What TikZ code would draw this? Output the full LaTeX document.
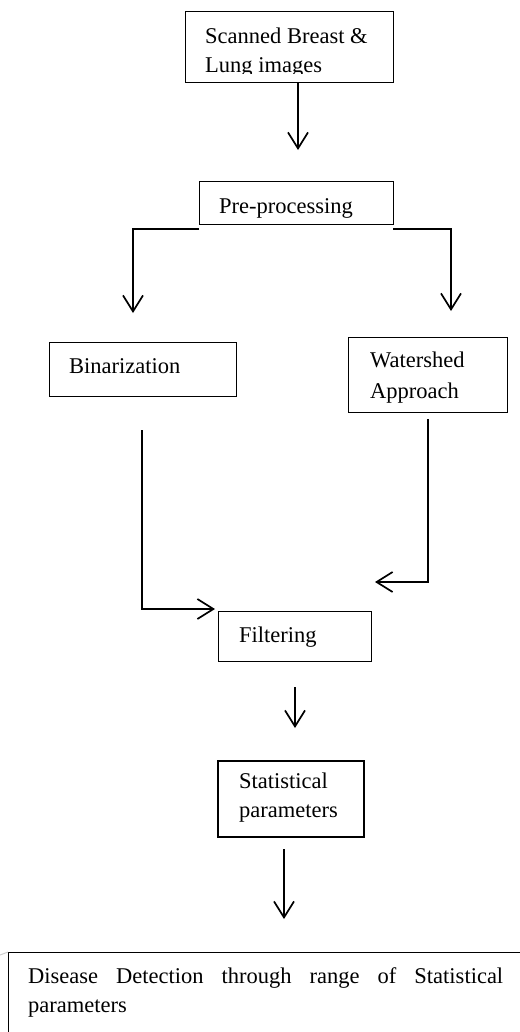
\documentclass[tikz,border=0pt]{standalone}
\usepackage{fontspec}
\setmainfont{Liberation Serif}
\usetikzlibrary{arrows.meta}
\begin{document}
\begin{tikzpicture}[x=1bp,y=-1bp,
  box/.style={draw, line width=1bp, inner sep=0pt, anchor=north west},
  txt/.style={anchor=base west, inner sep=0pt, font=\fontsize{22.5bp}{30bp}\selectfont},
  conn/.style={line width=1.7bp, -{Straight Barb[length=16bp,width=20bp,line width=1.7bp]}}]
\useasboundingbox (0,0) rectangle (520,1032);
\clip (0,0) rectangle (520,1032);
% boxes
\node[box, minimum width=208bp, minimum height=71bp] (scan) at (185,11) {};
\node[box, minimum width=194bp, minimum height=43bp] (pre) at (199,181) {};
\node[box, minimum width=187bp, minimum height=54bp] (bin) at (49,342) {};
\node[box, minimum width=159bp, minimum height=75bp] (wat) at (348,337) {};
\node[box, minimum width=153bp, minimum height=50bp] (fil) at (218,611) {};
\node[box, line width=2bp, minimum width=146bp, minimum height=76bp] (stat) at (217,760) {};
\node[box, minimum width=540bp, minimum height=100bp] (dis) at (8,952) {};
% texts
\node[txt] (scant1) at (205,43) {Scanned Breast \&};
\begin{scope}
\clip (185,11) rectangle (393,73);
\node[txt] (scant2) at (205,72) {Lung images};
\end{scope}
\node[txt] (pret) at (219,213) {Pre-processing};
\node[txt] (bint) at (69,373) {Binarization};
\node[txt] (watt1) at (370,367) {Watershed};
\node[txt] (watt2) at (370,398) {Approach};
\node[txt] (filt) at (239,642) {Filtering};
\node[txt] (statt1) at (239,788) {Statistical};
\node[txt] (statt2) at (239,817) {parameters};
\node[txt] (dist1) at (28,983) {\makebox[475bp][s]{Disease Detection through range of Statistical}};
\node[txt] (dist2) at (28,1012) {parameters};
% connector points
\coordinate (a1e) at (298,150);
\coordinate (pl) at (199,229);
\coordinate (pr) at (393,229);
\coordinate (bintip) at (133,313);
\coordinate (wattip) at (451,311);
\coordinate (bl) at (142,430);
\coordinate (filin) at (215,609);
\coordinate (wl) at (428,419);
\coordinate (filin2) at (375,582);
\coordinate (a2s) at (295,687);
\coordinate (a2e) at (295,728);
\coordinate (a3s) at (284,849);
\coordinate (a3e) at (284,919);
% connectors
\draw[conn] (scan.south -| a1e) -- (a1e);
\draw[conn] (pl) -| (bintip);
\draw[conn] (pr) -| (wattip);
\draw[conn] (bl) |- (filin);
\draw[conn] (wl) |- (filin2);
\draw[conn] (a2s) -- (a2e);
\draw[conn] (a3s) -- (a3e);
\draw[gray!40, line width=1bp] (0,955) -- (dis.north west);
\end{tikzpicture}
\end{document}
